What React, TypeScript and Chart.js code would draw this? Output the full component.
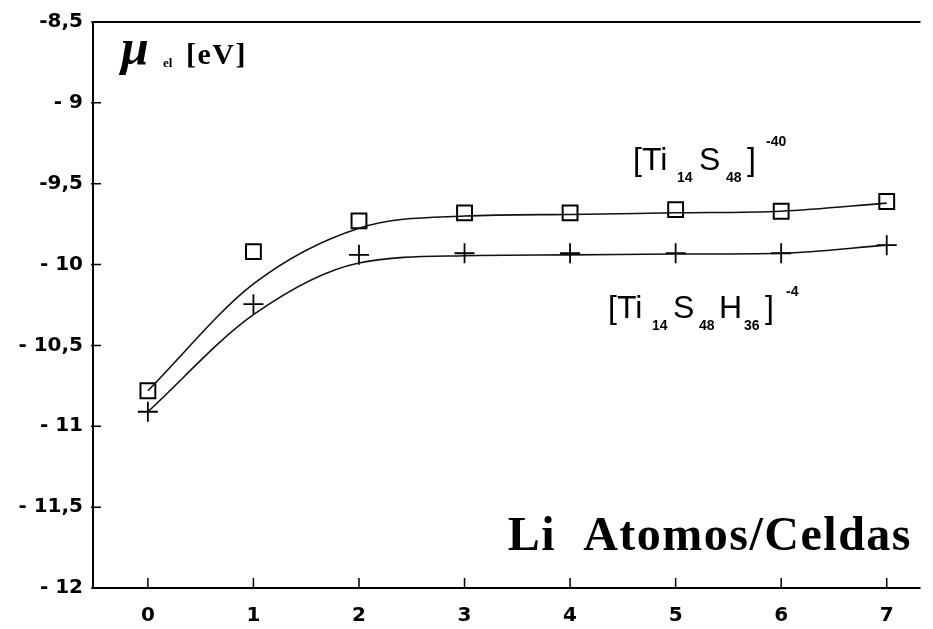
import React, { useEffect, useRef } from "react";
import { Chart, registerables } from "chart.js";

Chart.register(...registerables);

// Li atoms per cell (x) and electronic chemical potential in eV (y)
const liAtoms = [0, 1, 2, 3, 4, 5, 6, 7];
const tiS48 = [-10.78, -9.92, -9.73, -9.68, -9.68, -9.66, -9.67, -9.61];
const tiS48H36 = [-10.91, -10.245, -9.94, -9.93, -9.93, -9.93, -9.93, -9.88];
// smoothed fit curves through each series
const tiS48Fit = [-10.78, -10.12, -9.775, -9.7, -9.69, -9.68, -9.67, -9.62];
const tiS48H36Fit = [-10.91, -10.31, -9.99, -9.945, -9.94, -9.935, -9.93, -9.88];

const xTickValues = [0, 1, 2, 3, 4, 5, 6, 7];
const xTickLabels = ["0", "1", "2", "3", "4", "5", "6", "7"];
const yTickValues = [-12, -11.5, -11, -10.5, -10, -9.5, -9, -8.5];
const yTickLabels = ["- 12", "- 11,5", "- 11", "- 10,5", "- 10", "-9,5", "- 9", "-8,5"];

const SANS = '"Liberation Sans", Arial, sans-serif';
const WIDE = '"DejaVu Sans", Verdana, sans-serif';
const SERIF = '"Liberation Serif", "Times New Roman", serif';

// a piece of text placed at its own x and baseline
type Piece = { text: string; font: string; x: number; y: number; spacing?: number };

function drawPieces(ctx: CanvasRenderingContext2D, pieces: Piece[]) {
  for (const p of pieces) {
    ctx.font = p.font;
    (ctx as any).letterSpacing = `${p.spacing ?? 0}px`;
    ctx.fillText(p.text, p.x, p.y);
  }
  (ctx as any).letterSpacing = "0px";
}

const big = `32px ${SANS}`;
const small = `bold 14px ${SANS}`;

const decorPlugin = {
  id: "decor",
  afterDraw(chart: any) {
    const { ctx, chartArea: a, scales } = chart;
    const x = scales.x;
    const y = scales.y;
    ctx.save();
    ctx.strokeStyle = "#000";
    ctx.fillStyle = "#000";

    // frame: top, left and bottom lines
    ctx.lineWidth = 2;
    ctx.beginPath();
    ctx.moveTo(a.left, a.top);
    ctx.lineTo(a.right, a.top);
    ctx.moveTo(a.left, a.top);
    ctx.lineTo(a.left, a.bottom);
    ctx.lineTo(a.right, a.bottom);
    ctx.stroke();

    // inward tick marks
    ctx.lineWidth = 1.5;
    ctx.beginPath();
    for (const v of yTickValues) {
      const py = y.getPixelForValue(v);
      ctx.moveTo(a.left - 2, py);
      ctx.lineTo(a.left + 8, py);
    }
    for (const v of xTickValues) {
      const px = x.getPixelForValue(v);
      ctx.moveTo(px, a.bottom);
      ctx.lineTo(px, a.bottom - 10);
    }
    ctx.stroke();

    ctx.textBaseline = "alphabetic";
    ctx.textAlign = "left";

    // axis title: mu_el [eV]
    drawPieces(ctx, [
      { text: "\u03bc", font: `italic bold 50px ${SERIF}`, x: 121, y: 64 },
      { text: "el", font: `bold 13px ${SERIF}`, x: 163, y: 67 },
      { text: "[eV]", font: `bold 30px ${SERIF}`, x: 186, y: 64, spacing: 1.5 },
    ]);

    // series labels
    drawPieces(ctx, [
      { text: "[Ti", font: big, x: 633, y: 170 },
      { text: "14", font: small, x: 677, y: 182 },
      { text: "S", font: big, x: 699, y: 170 },
      { text: "48", font: small, x: 726, y: 182 },
      { text: "]", font: big, x: 747, y: 170 },
      { text: "-40", font: small, x: 766, y: 146 },
    ]);
    drawPieces(ctx, [
      { text: "[Ti", font: big, x: 608, y: 318 },
      { text: "14", font: small, x: 652, y: 330 },
      { text: "S", font: big, x: 673, y: 318 },
      { text: "48", font: small, x: 699, y: 330 },
      { text: "H", font: big, x: 719, y: 318 },
      { text: "36", font: small, x: 744, y: 330 },
      { text: "]", font: big, x: 765, y: 318 },
      { text: "-4", font: small, x: 786, y: 296 },
    ]);

    // x axis title
    ctx.textAlign = "right";
    ctx.font = `bold 48px ${SERIF}`;
    (ctx as any).letterSpacing = "1.5px";
    ctx.fillText("Li  Atomos/Celdas", 912, 550);
    (ctx as any).letterSpacing = "0px";

    ctx.restore();
  },
};

export default function App() {
  const canvasRef = useRef<HTMLCanvasElement | null>(null);

  useEffect(() => {
    const canvas = canvasRef.current;
    if (!canvas) return;
    const pts = (ys: number[]) => liAtoms.map((x, i) => ({ x, y: ys[i] }));

    const chart = new Chart(canvas, {
      type: "scatter",
      data: {
        datasets: [
          {
            label: "fit [Ti14S48]-40",
            data: pts(tiS48Fit),
            showLine: true,
            cubicInterpolationMode: "monotone",
            borderColor: "#111",
            borderWidth: 1.6,
            pointRadius: 0,
            fill: false,
          },
          {
            label: "fit [Ti14S48H36]-4",
            data: pts(tiS48H36Fit),
            showLine: true,
            cubicInterpolationMode: "monotone",
            borderColor: "#111",
            borderWidth: 1.6,
            pointRadius: 0,
            fill: false,
          },
          {
            label: "[Ti14S48]-40",
            data: pts(tiS48),
            showLine: false,
            pointStyle: "rect",
            pointRadius: 10.5,
            pointBorderWidth: 2,
            pointBorderColor: "#000",
            pointBackgroundColor: "rgba(0,0,0,0)",
          },
          {
            label: "[Ti14S48H36]-4",
            data: pts(tiS48H36),
            showLine: false,
            pointStyle: "cross",
            pointRadius: 10,
            pointBorderWidth: 1.8,
            pointBorderColor: "#000",
          },
        ],
      },
      options: {
        animation: false,
        responsive: false,
        devicePixelRatio: 1,
        layout: { padding: { top: 22, right: 6, left: 0, bottom: 0 } },
        plugins: {
          legend: { display: false },
          tooltip: { enabled: false },
        },
        scales: {
          x: {
            type: "linear",
            min: -0.52,
            max: 7.32,
            afterBuildTicks: (s: any) => {
              s.ticks = xTickValues.map((v) => ({ value: v }));
            },
            afterFit: (s: any) => {
              s.height = 41;
            },
            grid: { display: false, drawTicks: false },
            border: { display: false },
            ticks: {
              autoSkip: false,
              maxRotation: 0,
              padding: 16,
              color: "#000",
              font: { family: WIDE, size: 20, weight: "bold" },
              callback: (_v: any, i: number) => xTickLabels[i],
            },
          },
          y: {
            type: "linear",
            min: -12,
            max: -8.5,
            afterBuildTicks: (s: any) => {
              s.ticks = yTickValues.map((v) => ({ value: v }));
            },
            afterFit: (s: any) => {
              s.width = 93;
            },
            grid: { display: false, drawTicks: false },
            border: { display: false },
            ticks: {
              autoSkip: false,
              padding: 10,
              color: "#000",
              font: { family: WIDE, size: 20, weight: "bold" },
              callback: (_v: any, i: number) => yTickLabels[i],
            },
          },
        },
      } as any,
      plugins: [decorPlugin],
    });

    return () => chart.destroy();
  }, []);

  return (
    <div style={{ position: "fixed", left: 0, top: 0, width: 933, height: 629, background: "#fff" }}>
      <canvas ref={canvasRef} width={933} height={629} style={{ display: "block" }} />
    </div>
  );
}
